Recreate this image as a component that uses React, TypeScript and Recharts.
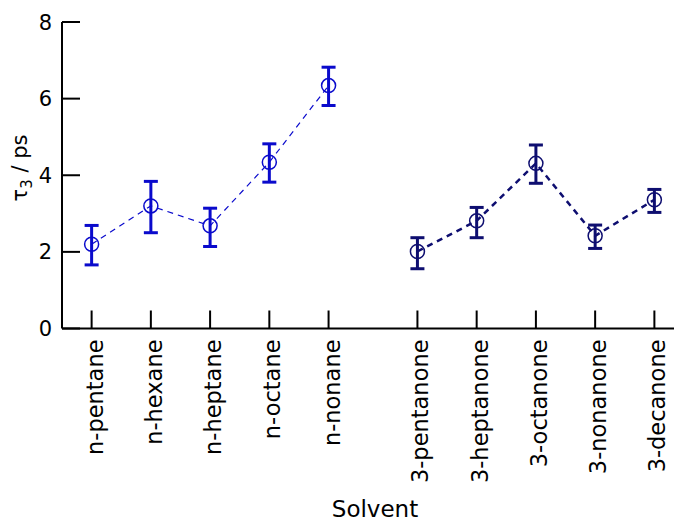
import React from 'react';
import { LineChart, Line, XAxis, YAxis, ErrorBar } from 'recharts';

// ---- data ----
const alkanes = ['n-pentane', 'n-hexane', 'n-heptane', 'n-octane', 'n-nonane'];
const ketones = ['3-pentanone', '3-heptanone', '3-octanone', '3-nonanone', '3-decanone'];
const alkaneTau = [2.2, 3.2, 2.68, 4.34, 6.34];
const alkaneErrMinus = [0.54, 0.7, 0.54, 0.52, 0.52];
const alkaneErrPlus = [0.49, 0.64, 0.46, 0.48, 0.48];
const ketoneTau = [2.01, 2.81, 4.31, 2.42, 3.36];
const ketoneErrMinus = [0.45, 0.44, 0.52, 0.33, 0.33];
const ketoneErrPlus = [0.36, 0.35, 0.48, 0.28, 0.27];
const yTicks = [0, 2, 4, 6, 8];
const groupGap = 1.5; // spacing between last alkane and first ketone (in category units)

// ---- derived ----
const ketoneStart = alkanes.length - 1 + groupGap;
const alkaneData = alkanes.map((name, i) => ({
  x: i,
  name,
  tau: alkaneTau[i],
  err: [alkaneErrMinus[i], alkaneErrPlus[i]],
}));
const ketoneData = ketones.map((name, i) => ({
  x: ketoneStart + i,
  name,
  tau: ketoneTau[i],
  err: [ketoneErrMinus[i], ketoneErrPlus[i]],
}));
const allCats = [...alkaneData, ...ketoneData];
const xTicks = allCats.map((d) => d.x);
const labelAt = (v: number) => {
  const f = allCats.find((d) => Math.abs(d.x - v) < 1e-6);
  return f ? f.name : '';
};

const FONT = 'DejaVu Sans';
const BLUE = '#0a0acc';
const NAVY = '#0e0e70';
const TICK_LEN = 18;

const BottomTick = (props: any) => {
  const { x, y, payload } = props;
  return (
    <g>
      <line x1={x} x2={x} y1={y} y2={y - TICK_LEN} stroke="#000" strokeWidth={2} />
      <text
        transform={`translate(${x + 11},${y + 11}) rotate(-90)`}
        textAnchor="end"
        fontSize={22.5}
        fontFamily={FONT}
        fill="#000"
      >
        {labelAt(payload.value)}
      </text>
    </g>
  );
};

const TopTick = (props: any) => {
  const { x, y } = props;
  return <line x1={x} x2={x} y1={y} y2={y + TICK_LEN} stroke="#000" strokeWidth={2} />;
};

const LeftTick = (props: any) => {
  const { x, y, payload } = props;
  return (
    <g>
      <line x1={x} x2={x + TICK_LEN} y1={y} y2={y} stroke="#000" strokeWidth={2} />
      <text x={x - 10} y={y} dy="0.36em" textAnchor="end" fontSize={21} fontFamily={FONT} fill="#000">
        {payload.value}
      </text>
    </g>
  );
};

const RightTick = (props: any) => {
  const { x, y } = props;
  return <line x1={x} x2={x - TICK_LEN} y1={y} y2={y} stroke="#000" strokeWidth={2} />;
};

const YTitle = () => (
  <text
    transform="translate(27,168) rotate(-90)"
    textAnchor="middle"
    fontSize={21}
    fontFamily={FONT}
    fill="#000"
  >
    <tspan>τ</tspan>
    <tspan dy={5} fontSize={15}>3</tspan>
    <tspan dy={-5}> / ps</tspan>
  </text>
);

const XTitle = () => (
  <text x={375} y={517} textAnchor="middle" fontSize={23} fontFamily={FONT} fill="#000">
    Solvent
  </text>
);

export default function App() {
  return (
    <div style={{ position: 'absolute', left: 0, top: 0, width: 674, height: 522, overflow: 'hidden', background: '#fff' }}>
      <LineChart width={720} height={522} margin={{ top: 22, right: 0, bottom: 0, left: 0 }}>
        <XAxis
          xAxisId="b"
          dataKey="x"
          type="number"
          domain={[-0.5, 10]}
          allowDataOverflow
          ticks={xTicks}
          interval={0}
          height={193.5}
          tickSize={0}
          tickMargin={0}
          tickLine={false}
          axisLine={{ stroke: '#000', strokeWidth: 2 }}
          tick={<BottomTick />}
          label={{ content: () => <XTitle /> }}
        />
        <XAxis
          xAxisId="t"
          orientation="top"
          dataKey="x"
          type="number"
          domain={[-0.5, 10]}
          allowDataOverflow
          ticks={xTicks}
          interval={0}
          height={0}
          tickSize={0}
          tickMargin={0}
          tickLine={false}
          axisLine={{ stroke: '#000', strokeWidth: 2 }}
          tick={<TopTick />}
        />
        <YAxis
          yAxisId="l"
          domain={[0, 8]}
          ticks={yTicks}
          interval={0}
          width={62}
          tickSize={0}
          tickMargin={0}
          tickLine={false}
          axisLine={{ stroke: '#000', strokeWidth: 2 }}
          tick={<LeftTick />}
          label={{ content: () => <YTitle /> }}
        />
        <YAxis
          yAxisId="r"
          orientation="right"
          domain={[0, 8]}
          ticks={yTicks}
          interval={0}
          width={36}
          tickSize={0}
          tickMargin={0}
          tickLine={false}
          axisLine={{ stroke: '#000', strokeWidth: 2 }}
          tick={<RightTick />}
        />
        <Line
          xAxisId="b"
          yAxisId="l"
          data={alkaneData}
          dataKey="tau"
          stroke={BLUE}
          strokeWidth={1.2}
          strokeDasharray="6 5"
          isAnimationActive={false}
          dot={{ r: 7, fill: 'none', stroke: BLUE, strokeWidth: 1.5, strokeDasharray: 'none' }}
          activeDot={false}
        >
          <ErrorBar dataKey="err" direction="y" width={7} strokeWidth={3} stroke={BLUE} isAnimationActive={false} />
        </Line>
        <Line
          xAxisId="b"
          yAxisId="l"
          data={ketoneData}
          dataKey="tau"
          stroke={NAVY}
          strokeWidth={2.5}
          strokeDasharray="6 5"
          isAnimationActive={false}
          dot={{ r: 7, fill: 'none', stroke: NAVY, strokeWidth: 1.5, strokeDasharray: 'none' }}
          activeDot={false}
        >
          <ErrorBar dataKey="err" direction="y" width={7} strokeWidth={3} stroke={NAVY} isAnimationActive={false} />
        </Line>
      </LineChart>
    </div>
  );
}
